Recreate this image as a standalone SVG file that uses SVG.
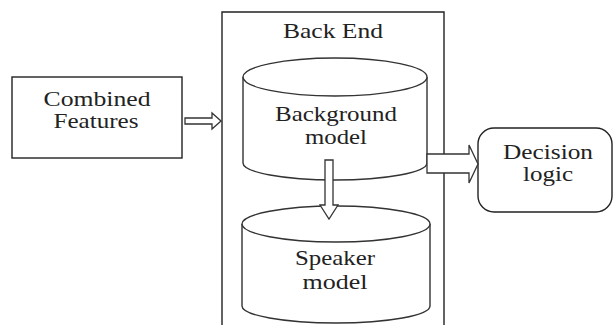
<svg xmlns="http://www.w3.org/2000/svg" width="614" height="325" viewBox="0 0 614 325">
<style>
.box{fill:#fff;stroke:#222;stroke-width:1.4}
.cyl{fill:#fff;stroke:#333;stroke-width:1.4}
.arr{fill:#fff;stroke:#333;stroke-width:1.3;stroke-linejoin:miter}
text{font-family:"Liberation Serif","Times New Roman",serif;font-size:21px;fill:#222;text-anchor:middle}
</style>
<rect width="614" height="325" fill="#fff"/>
<g id="backend">
<path class="box" d="M222,326 V12 H444 V326"/>
<text x="333" y="38" textLength="100" lengthAdjust="spacingAndGlyphs">Back End</text>
</g>
<g id="combined">
<rect class="box" x="12" y="77" width="170" height="81"/>
<text x="97" y="106" textLength="107" lengthAdjust="spacingAndGlyphs">Combined</text>
<text x="96" y="128" textLength="85" lengthAdjust="spacingAndGlyphs">Features</text>
</g>
<g id="background">
<path class="cyl" d="M243,77 V163 A92,17 0 0 0 427,163 V77"/>
<ellipse class="cyl" cx="335" cy="77" rx="92" ry="19"/>
<text x="336" y="121" textLength="122" lengthAdjust="spacingAndGlyphs">Background</text>
<text x="336" y="144" textLength="62" lengthAdjust="spacingAndGlyphs">model</text>
</g>
<g id="speaker">
<path class="cyl" d="M242,224 V306 A94,17 0 0 0 430,306 V224"/>
<ellipse class="cyl" cx="336" cy="224" rx="94" ry="18"/>
<text x="335" y="265" textLength="80" lengthAdjust="spacingAndGlyphs">Speaker</text>
<text x="335" y="289" textLength="65" lengthAdjust="spacingAndGlyphs">model</text>
</g>
<g id="decision">
<rect class="box" x="478" y="128" width="134" height="84" rx="16"/>
<text x="548" y="159" textLength="90" lengthAdjust="spacingAndGlyphs">Decision</text>
<text x="548" y="181" textLength="50" lengthAdjust="spacingAndGlyphs">logic</text>
</g>
<g id="connectors">
<path class="arr" d="M185,118 H212 V113 L221,121 L212,129 V124 H185 Z"/>
<path class="arr" d="M325,160 H333 V205 H338 L329,219 L320,205 H325 Z"/>
<path class="arr" d="M427,154 H469 V145 L478,164 L469,183 V173 H427 Z"/>
</g>
</svg>
